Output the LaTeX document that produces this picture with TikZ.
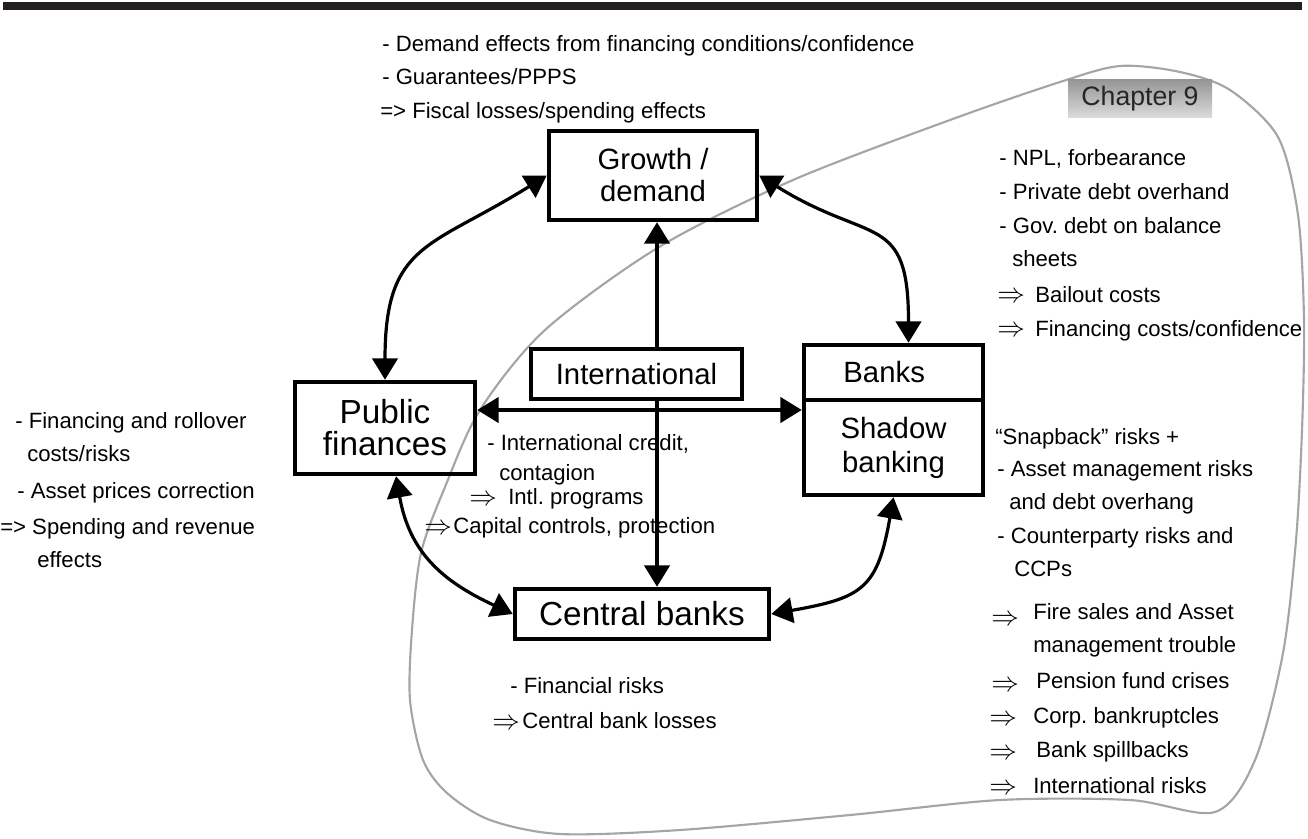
\documentclass[tikz,border=0pt]{standalone}
\usepackage{fontspec}
\setmainfont{Liberation Sans}
\usetikzlibrary{arrows.meta,calc}
\definecolor{barblack}{RGB}{35,31,32}
\definecolor{blobgray}{RGB}{165,165,165}
\definecolor{chtop}{RGB}{150,150,150}
\definecolor{chbot}{RGB}{220,220,220}
\frenchspacing
\begin{document}
\begin{tikzpicture}[x=0.75pt,y=-0.75pt,
  box/.style={draw, line width=3.4pt, inner sep=0pt, align=center},
  bigfont/.style={font=\fontsize{22}{24}\selectfont},
  hugefont/.style={font=\fontsize{25}{24}\selectfont},
  txt/.style={anchor=base west, inner sep=0pt, font=\fontsize{16.6}{19}\selectfont},
  imp/.style={anchor=base west, inner sep=0pt, font=\fontsize{21}{21}\selectfont},
  arr/.style={line width=2.4pt, -{Triangle[length=16pt,width=19pt]}},
  dbl/.style={line width=2.4pt, {Triangle[length=16pt,width=19pt]}-{Triangle[length=16pt,width=19pt]}},
  blob/.style={draw=blobgray, line width=1.6pt}
]
\useasboundingbox (0,0) rectangle (1308,838);
% top bar
\fill[barblack] (3,2) rectangle (1302,10);

% chapter outline
\draw[blob] plot[smooth cycle, tension=0.5] coordinates {
 (412,630) (421,553) (445,487) (480,410) (545,330) (659,247)
 (793,180) (950,120) (1060,82) (1120,66) (1180,72) (1230,90) (1278,137)
 (1298,215) (1304,320) (1302,430) (1296,540) (1283,653) (1255,760)
 (1215,812) (1130,800) (1000,800) (850,815) (680,830) (560,834)
 (490,820) (447,793) (423,760) (410,700)};

% chapter label
\node[inner sep=0pt, minimum width=108pt, minimum height=28.5pt,
      top color=chtop, bottom color=chbot, text=black!85,
      font=\fontsize{20}{22}\selectfont] (chap) at (1140,99) {Chapter 9};

% boxes
\node[box, bigfont, minimum width=156pt, minimum height=66.75pt] (growth) at (653,175.5) {Growth /\\demand};
\node[box, bigfont, minimum width=158.25pt, minimum height=37.5pt] (intl) at (636.5,374) {International};
\node[box, hugefont, minimum width=135pt, minimum height=69pt] (pf) at (385,428) {Public\\finances};
\node[box, bigfont, minimum width=134.25pt, minimum height=41.25pt] (banks) at (893.5,372.5) {\hspace*{-14pt}Banks};
\node[box, font=\fontsize{22}{25.5}\selectfont, minimum width=134.25pt, minimum height=71.25pt] (shadow) at (893.5,447.5) {Shadow\\banking};
\node[box, hugefont, minimum width=190.5pt, minimum height=37.5pt] (central) at (642,614) {Central banks};

% connectors
\coordinate (vx) at (657,0);
\coordinate (hy) at (0,410);
\draw[arr] (intl.north -| vx) -- (growth.south -| vx);
\draw[arr] (intl.south -| vx) -- (central.north -| vx);
\draw[dbl] (pf.east |- hy) -- (shadow.west |- hy);
\draw[dbl] (growth.west) to[out=212,in=90,looseness=1.35] (pf.north);
\draw[dbl] (growth.east) to[out=-32,in=90,looseness=1.5] ($(banks.north)+(15,0)$);
\draw[dbl] ($(pf.south)+(11,0)$) to[out=280,in=155,looseness=1.1] (central.west);
\draw[dbl] (central.east) to[out=10,in=260,looseness=1.4] (shadow.south);

% top texts
\node[txt] (t1) at (382,52) {- Demand effects from financing conditions/confidence};
\node[txt] (t2) at (382,85) {- Guarantees/PPPS};
\node[txt] (t3) at (380,118) {=> Fiscal losses/spending effects};

% right upper texts
\node[txt] (r1) at (999,166) {- NPL, forbearance};
\node[txt] (r2) at (999,199) {- Private debt overhand};
\node[txt] (r3) at (999,233) {- Gov. debt on balance};
\node[txt] (r4) at (1012,266) {sheets};
\node[imp] (r5a) at (997,302) {$\Rightarrow$};
\node[txt] (r5) at (1035,302) {Bailout costs};
\node[imp] (r6a) at (997,336) {$\Rightarrow$};
\node[txt] (r6) at (1035,336) {Financing costs/confidence};

% left texts
\node[txt] (l1) at (15,428) {- Financing and rollover};
\node[txt] (l2) at (27,461) {costs/risks};
\node[txt] (l3) at (17,498) {- Asset prices correction};
\node[txt] (l4) at (0,534) {=> Spending and revenue};
\node[txt] (l5) at (37,567) {effects};

% center texts
\node[txt] (c1) at (487,450) {- International credit,};
\node[txt] (c2) at (499,480) {contagion};
\node[imp] (c3a) at (469,505) {$\Rightarrow$};
\node[txt] (c3) at (508,504) {Intl. programs};
\node[imp] (c4a) at (424,534) {$\Rightarrow$};
\node[txt] (c4) at (453,533) {Capital controls, protection};

% right lower texts
\node[txt] (s1) at (995,444) {“Snapback” risks +};
\node[txt] (s2) at (997,476) {- Asset management risks};
\node[txt] (s3) at (1009,509) {and debt overhang};
\node[txt] (s4) at (997,543) {- Counterparty risks and};
\node[txt] (s5) at (1014,576) {CCPs};
\node[imp] (s6a) at (991,625) {$\Rightarrow$};
\node[txt] (s6) at (1033,619) {Fire sales and Asset};
\node[txt] (s7) at (1033,652) {management trouble};
\node[imp] (s8a) at (991,691) {$\Rightarrow$};
\node[txt] (s8) at (1036,688) {Pension fund crises};
\node[imp] (s9a) at (989,725) {$\Rightarrow$};
\node[txt] (s9) at (1033,723) {Corp. bankruptcles};
\node[imp] (s10a) at (989,759) {$\Rightarrow$};
\node[txt] (s10) at (1036,757) {Bank spillbacks};
\node[imp] (s11a) at (989,794) {$\Rightarrow$};
\node[txt] (s11) at (1033,793) {International risks};

% bottom center texts
\node[txt] (b1) at (510,693) {- Financial risks};
\node[imp] (b2a) at (492,729) {$\Rightarrow$};
\node[txt] (b2) at (522,728) {Central bank losses};
\end{tikzpicture}
\end{document}
